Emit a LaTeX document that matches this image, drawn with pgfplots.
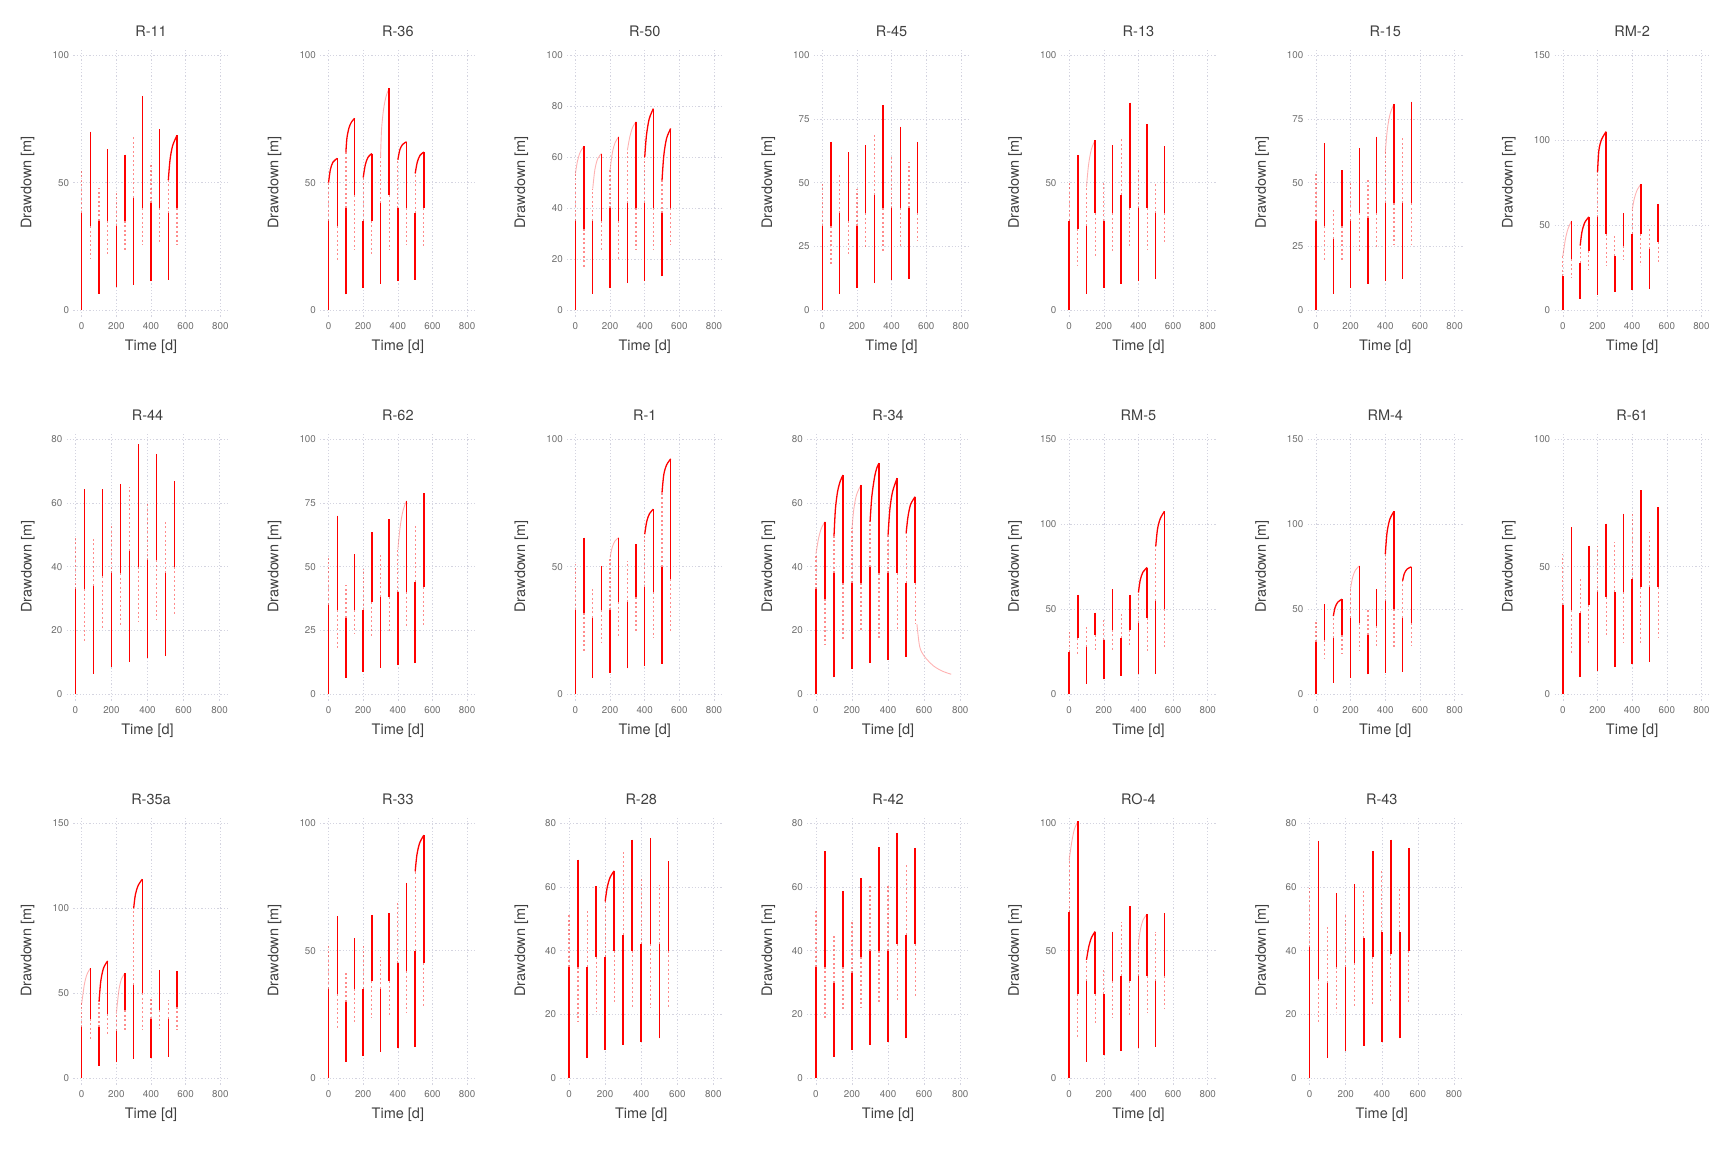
\documentclass[border=0pt]{standalone}
\usepackage{fontspec}
\setmainfont{TeX Gyre Heros}
\usepackage{pgfplots}
\pgfplotsset{compat=1.18}
\definecolor{rd}{RGB}{255,0,0}
\definecolor{txt}{RGB}{64,64,64}
\definecolor{tck}{RGB}{110,110,110}
\definecolor{grd}{RGB}{212,212,224}
\newcommand{\lblfont}{\fontsize{14.5}{16}\selectfont}
\pgfplotsset{
 dd/.style={scale only axis, height=268.2pt, anchor=north west,
   xmin=-48, xmax=848, xtick={0,200,400,600,800},
   unbounded coords=jump, scaled ticks=false,
   grid=major, major grid style={grd, line width=0.6pt, dash pattern=on 1.2pt off 2pt},
   axis line style={draw=none}, major tick length=0pt, tick style={draw=none},
   /pgf/number format/assume math mode=true,
   tick label style={font=\fontsize{9.8}{11}\selectfont, text=tck},
   xticklabel style={anchor=north, inner sep=0pt, yshift=-5.5pt},
   yticklabel style={anchor=east, inner sep=0pt, xshift=-4.2pt},
   every axis title/.style={at={(axis description cs:0.5,1)}, anchor=base, yshift=12.3pt, font=\lblfont, text=txt, inner sep=0pt},
   xlabel={Time [d]}, ylabel={Drawdown [m]},
   every axis x label/.style={at={(axis description cs:0.5,0)}, anchor=base, yshift=-33.5pt, font=\lblfont, text=txt, inner sep=0pt},
 },
 w3/.style={width=155.2pt, every axis y label/.style={at={(axis description cs:-0.27,0.5)}, rotate=90, anchor=base, font=\lblfont, text=txt, inner sep=0pt}},
 w2/.style={width=161.6pt, every axis y label/.style={at={(axis description cs:-0.2178,0.5)}, rotate=90, anchor=base, font=\lblfont, text=txt, inner sep=0pt}},
 Ta/.style={w3, ymin=-2.4, ymax=102.6, ytick={0,50,100}},
 Tb/.style={w3, ymin=-2.4, ymax=102.6, ytick={0,25,50,75,100}},
 Tc/.style={w3, ymin=-2.4, ymax=102.6, ytick={0,20,40,60,80,100}},
 Td/.style={w3, ymin=-3.6, ymax=153.9, ytick={0,50,100,150}},
 Te/.style={w2, ymin=-1.92, ymax=82.08, ytick={0,20,40,60,80}},
 core/.style={draw=rd, line width=1.45pt},
 far/.style={draw=rd, opacity=0.45, line width=1.2pt, dash pattern=on 2pt off 2.5pt},
 crv/.style={draw=rd, line width=1.3pt, smooth},
 fcrv/.style={draw=rd, opacity=0.3, line width=0.9pt, smooth},
}
% each entry: time / start of jump / end of dense part / end of jump
\newcommand{\segs}[1]{\foreach \sT/\sO/\sC/\sF in {#1}{%
  \edef\tmp{\noexpand\addplot[far] coordinates {(\sT,\sC)(\sT,\sF)};\noexpand\addplot[core] coordinates {(\sT,\sO)(\sT,\sC)};}\tmp}}
\begin{document}
\begin{tikzpicture}
\useasboundingbox (0,0) rectangle (1728pt,-1152pt);
% ---------------- row 1
\begin{axis}[dd, Ta, at={(73.4pt,-48.3pt)}, title={R-11}]
\segs{0/0/38/55, 50/70/33/20, 100/6.5/35/48, 150/63/35/22, 200/9/33/46, 250/61/35/23, 300/10/44/68, 350/84/40/25.5, 400/11.5/42/57, 450/71/40/26, 500/12/38/51, 550/68.5/40/25.5}
\addplot[crv] coordinates {(500,51)(510,59)(525,64.5)(550,68.5)};
\end{axis}
\begin{axis}[dd, Ta, at={(320.26pt,-48.3pt)}, title={R-36}]
\segs{0/0/35/50, 50/59.5/33/19.6, 100/6.3/40/62, 150/75.2/45/23.5, 200/8.9/35/52, 250/61.4/35/22.2, 300/10.5/42/60, 350/87/45/23.5, 400/11.5/40/59, 450/66/40/25.5, 500/12/38/53.6, 550/62/40/24.8}
\addplot[crv] coordinates {(0,50)(10,55)(25,58)(50,59.5) (50,nan) (100,62)(106,67.5)(118,71.5)(132,73.7)(150,75.2) (150,nan) (200,52)(212,57)(228,60)(250,61.4) (250,nan) (400,59)(412,63)(428,65)(450,66) (450,nan) (500,53.6)(512,58)(528,60.7)(550,62)};
\addplot[fcrv] coordinates {(300,60)(306,71)(318,79)(333,84)(350,87)};
\end{axis}
\begin{axis}[dd, Tc, at={(567.11pt,-48.3pt)}, title={R-50}]
\segs{0/0/35/53.6, 50/64.3/32/16.3, 100/6.5/35/47.7, 150/61.4/35/23.5, 200/8.9/40/55, 250/68/35/19.6, 300/10.7/42/62.7, 350/73.9/40/23.5, 400/11.5/42/60, 450/79/40/23.5, 500/13.3/38/51, 550/71.2/40/25.5}
\addplot[crv] coordinates {(400,60)(410,68.5)(426,75)(450,79) (450,nan) (500,51)(510,60.5)(526,67.3)(550,71.2)};
\addplot[fcrv] coordinates {(0,53.6)(12,58.5)(28,62)(50,64.3) (50,nan) (100,47.7)(112,55)(128,59.3)(150,61.4) (150,nan) (200,55)(214,62)(230,65.8)(250,68) (250,nan) (300,62.7)(314,68)(330,71.6)(350,73.9)};
\end{axis}
\begin{axis}[dd, Tb, at={(813.97pt,-48.3pt)}, title={R-45}]
\segs{0/0/33/49.7, 50/66/33/17.6, 100/6.5/38/53.6, 150/62/35/21, 200/8.9/33/47.7, 250/64.7/38/24, 300/10.7/45/68.6, 350/80.4/40/22.9, 400/11.8/40/60, 450/71.9/40/24.8, 500/12.4/40/58.2, 550/66/38/27}
\end{axis}
\begin{axis}[dd, Ta, at={(1060.83pt,-48.3pt)}, title={R-13}]
\segs{0/0/35/49.7, 50/60.8/32/17.6, 100/6.5/33/48.4, 150/66.7/38/21, 200/8.9/35/49.7, 250/64.7/38/22.2, 300/10.5/45/67.3, 350/81.3/40/24.8, 400/11.5/40/55.6, 450/72.9/40/23.5, 500/12.2/38/50.3, 550/64.3/38/26.8}
\addplot[fcrv] coordinates {(100,48.4)(112,57)(128,63)(150,66.7)};
\end{axis}
\begin{axis}[dd, Tb, at={(1307.69pt,-48.3pt)}, title={R-15}]
\segs{0/0/35/54.2, 50/65.4/33/19, 100/6.5/28/39.2, 150/54.9/33/19.6, 200/8.9/35/49.7, 250/63.4/38/22.9, 300/10.5/36/51, 350/68/38/24, 400/11.5/42/62, 450/80.8/42/26, 500/12.4/42/67.3, 550/81.7/42/25.5}
\addplot[fcrv] coordinates {(400,62)(412,71)(428,77)(450,80.8)};
\end{axis}
\begin{axis}[dd, Td, at={(1554.54pt,-48.3pt)}, title={RM-2}]
\segs{0/0/20/32, 50/52.5/30/19, 100/6.9/28/38, 150/54.9/35/23.5, 200/9.3/55/81, 250/105/45/26, 300/10.8/32/45, 350/57/38/29.4, 400/12/45/58.8, 450/74.1/45/26.5, 500/12.7/36/49, 550/62.5/40/28}
\addplot[crv] coordinates {(100,38)(110,46)(126,51.5)(150,54.9) (150,nan) (200,81)(208,94)(224,100.5)(250,105)};
\addplot[fcrv] coordinates {(0,32)(15,42)(30,48)(50,52.5) (50,nan) (400,58.8)(412,65.5)(428,70.5)(450,74.1)};
\end{axis}
% ---------------- row 2
\begin{axis}[dd, Te, at={(66.7pt,-432.3pt)}, title={R-44}]
\segs{0/0/33/49.7, 50/64.3/33/16.7, 100/6.5/34/48.6, 150/64.3/37/20.9, 200/8.6/38/53.3, 250/65.9/38/21.4, 300/10.2/45/65, 350/78.4/40/23, 400/11.5/42/59.6, 450/75.3/42/23.5, 500/12/38/54.4, 550/66.9/40/25.1}
\end{axis}
\begin{axis}[dd, Tb, at={(320.26pt,-432.3pt)}, title={R-62}]
\segs{0/0/35/54.2, 50/70/33/18.3, 100/6.5/30/43, 150/54.9/33/23.5, 200/8.9/33/49, 250/63.4/36/22.2, 300/10.5/38/54.9, 350/68.6/38/24.8, 400/11.5/40/56.9, 450/75.8/40/26, 500/12.2/44/66, 550/78.7/42/26.8}
\addplot[fcrv] coordinates {(400,56.9)(414,66)(430,72)(450,75.8)};
\end{axis}
\begin{axis}[dd, Ta, at={(567.11pt,-432.3pt)}, title={R-1}]
\segs{0/0/33/51, 50/61.4/32/17, 100/6.5/30/41.8, 150/50.3/33/20.3, 200/8.5/33/53.6, 250/61.4/36/22.9, 300/10.2/36/52.3, 350/58.8/38/24.2, 400/11.1/42/62.7, 450/72.5/40/22.2, 500/12/50/79, 550/92.2/45/24.2}
\addplot[crv] coordinates {(400,62.7)(412,67.8)(428,70.8)(450,72.5) (450,nan) (500,79)(510,86)(526,89.8)(550,92.2)};
\addplot[fcrv] coordinates {(200,53.6)(212,57.5)(228,60)(250,61.4)};
\end{axis}
\begin{axis}[dd, Te, at={(807.27pt,-432.3pt)}, title={R-34}]
\segs{0/0/33/44, 50/54.1/30/15.5, 100/5.3/38/49.4, 150/68.7/35/17, 200/8.1/35/52, 250/65.6/35/20.2, 300/9.9/40/54, 350/72.4/38/17.5, 400/10.8/38/50, 450/67.7/38/20.2, 500/11.8/35/50.4, 550/61.9/35/22.2}
\addplot[crv] coordinates {(100,49.4)(108,58)(120,63.5)(135,66.8)(150,68.7) (150,nan) (300,54)(310,62)(325,68)(338,71)(350,72.4) (350,nan) (400,50)(410,58)(425,63.5)(450,67.7) (450,nan) (500,50.4)(510,55.5)(525,59.5)(550,61.9)};
\addplot[fcrv] coordinates {(0,44)(15,49)(30,52)(50,54.1) (50,nan) (200,52)(210,58)(225,62.5)(250,65.6) (250,nan) (560,22)(575,15)(600,12)(650,9)(700,7.3)(750,6.3)};
\end{axis}
\begin{axis}[dd, Td, at={(1060.83pt,-432.3pt)}, title={RM-5}]
\segs{0/0/25/37, 50/58.4/33/23.5, 100/6.3/28/39.6, 150/48/35/25.5, 200/8.8/32/45, 250/61.8/38/25.5, 300/10.8/33/48, 350/58.4/38/27.5, 400/11.8/42/59.8, 450/74.5/45/25.5, 500/12.2/55/87, 550/107.5/50/27.5}
\addplot[crv] coordinates {(400,59.8)(410,67)(426,71.8)(450,74.5) (450,nan) (500,87)(510,97)(526,103.2)(550,107.5)};
\end{axis}
\begin{axis}[dd, Td, at={(1307.69pt,-432.3pt)}, title={RM-4}]
\segs{0/0/31/43, 50/52.9/32/20.6, 100/6.9/33/46, 150/55.9/35/23.5, 200/9.8/45/62.7, 250/75.5/42/25.5, 300/11.8/35/50, 350/61.8/40/28.4, 400/12.7/55/82.4, 450/107.5/50/27.5, 500/13.3/45/66.7, 550/74.9/42/28.4}
\addplot[crv] coordinates {(100,46)(110,51)(126,54.2)(150,55.9) (150,nan) (400,82.4)(410,95)(426,102.8)(450,107.5) (450,nan) (500,66.7)(510,71)(526,73.6)(550,74.9)};
\addplot[fcrv] coordinates {(200,62.7)(212,69)(228,73)(250,75.5)};
\end{axis}
\begin{axis}[dd, Ta, at={(1554.54pt,-432.3pt)}, title={R-61}]
\segs{0/0/35/54.9, 50/65.4/33/16.3, 100/6.8/32/45.1, 150/58.2/35/20.3, 200/9.2/40/58.2, 250/66.9/38/22.2, 300/10.7/40/59.5, 350/70.8/40/20.3, 400/11.8/45/71.2, 450/80/42/20.3, 500/12.8/42/63.4, 550/73.2/42/22.2}
\end{axis}
% ---------------- row 3
\begin{axis}[dd, Td, at={(73.4pt,-816.3pt)}, title={R-35a}]
\segs{0/0/30/44, 50/64.7/35/22.5, 100/7.3/30/45, 150/69/38/25.5, 200/9.4/28/38.2, 250/61.8/40/28.4, 300/11.4/55/100, 350/117/50/28.4, 400/12.2/35/48, 450/63.7/40/29.4, 500/12.7/35/46, 550/63.1/42/28.4}
\addplot[crv] coordinates {(100,45)(110,57)(126,64.8)(150,69) (150,nan) (300,100)(310,108)(326,113.3)(350,117)};
\addplot[fcrv] coordinates {(0,44)(15,55)(30,61)(50,64.7) (50,nan) (200,38.2)(215,52)(230,58.5)(250,61.8)};
\end{axis}
\begin{axis}[dd, Ta, at={(320.26pt,-816.3pt)}, title={R-33}]
\segs{0/0/35/52.3, 50/63.4/33/19, 100/6.5/30/41.2, 150/54.9/35/22.2, 200/8.9/35/52.3, 250/64/38/23.5, 300/10.5/35/47.7, 350/64.7/38/24.2, 400/11.8/45/68.6, 450/76.5/42/26, 500/12.2/50/81, 550/95.2/45/27.5}
\addplot[crv] coordinates {(500,81)(510,87.5)(526,92.2)(550,95.2)};
\end{axis}
\begin{axis}[dd, Te, at={(560.41pt,-816.3pt)}, title={R-28}]
\segs{0/0/35/51.8, 50/68.5/35/17.8, 100/6.5/35/52.3, 150/60.1/38/20.9, 200/8.9/38/55.4, 250/65/40/23.5, 300/10.5/45/71, 350/74.8/40/22.5, 400/11.5/42/62.7, 450/75.3/42/22, 500/12.5/42/60.7, 550/68/40/22}
\addplot[crv] coordinates {(200,55.4)(212,60)(228,63)(250,65)};
\end{axis}
\begin{axis}[dd, Te, at={(807.27pt,-816.3pt)}, title={R-42}]
\segs{0/0/35/52.3, 50/71.1/35/18.8, 100/6.8/30/45, 150/58.6/35/21.4, 200/8.9/33/49.2, 250/62.7/38/22, 300/10.5/40/60.1, 350/72.4/40/23.5, 400/11.5/40/60.1, 450/76.9/42/24, 500/12.5/45/67, 550/72.2/42/25.6}
\end{axis}
\begin{axis}[dd, Ta, at={(1060.83pt,-816.3pt)}, title={RO-4}]
\segs{0/0/65/85.6, 50/100.6/33/16.3, 100/6.5/38/46.4, 150/57.5/33/21.6, 200/9.2/33/43.4, 250/57.5/38/23.5, 300/10.7/40/61.4, 350/67.3/38/24.8, 400/11.8/40/52.9, 450/64.3/40/25.5, 500/12.4/38/57.5, 550/64.7/40/27.5}
\addplot[crv] coordinates {(100,46.4)(114,51.8)(130,55.3)(150,57.5)};
\addplot[fcrv] coordinates {(0,85.6)(15,92.5)(30,97.5)(50,100.6) (50,nan) (400,52.9)(412,58.5)(428,62.2)(450,64.3)};
\end{axis}
\begin{axis}[dd, Te, at={(1300.99pt,-816.3pt)}, title={R-43}]
\segs{0/0/41/59.6, 50/74.5/31/17.8, 100/6.5/30/47.6, 150/58/35/20.9, 200/8.6/35/51.2, 250/60.9/36/22, 300/10.2/44/59.1, 350/71.1/38/23, 400/11.5/46/65.4, 450/74.8/39/24, 500/12.5/46/59.6, 550/72.2/40/24}
\end{axis}
\end{tikzpicture}
\end{document}
